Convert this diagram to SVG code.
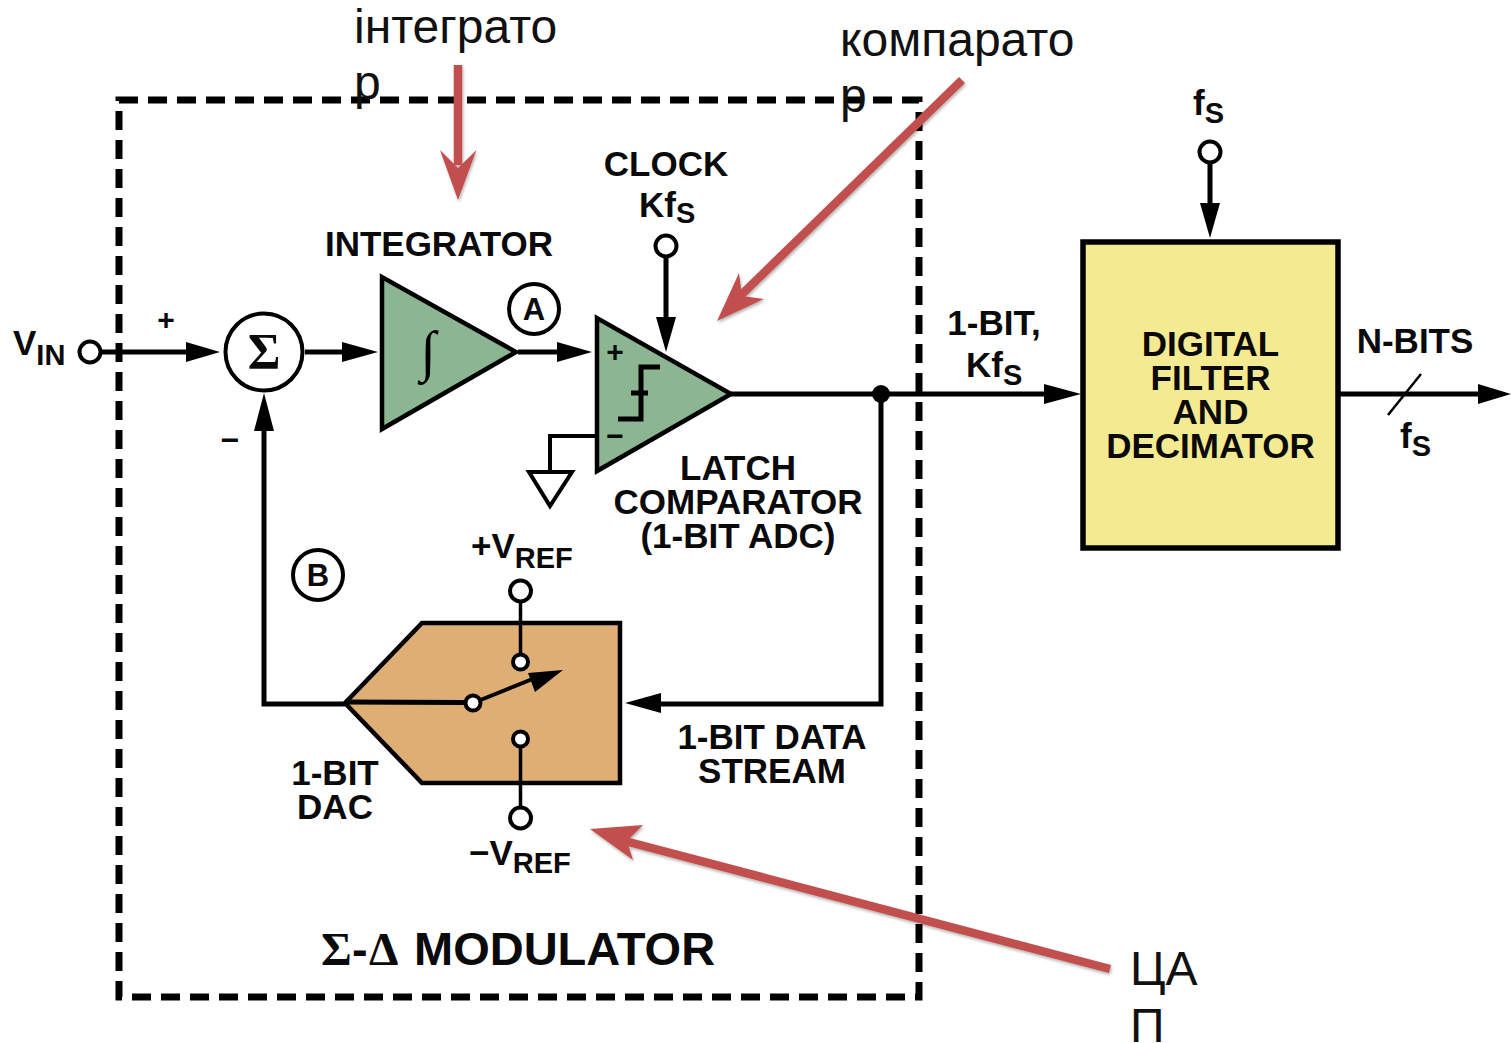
<svg xmlns="http://www.w3.org/2000/svg" width="1511" height="1043" viewBox="0 0 1511 1043">
<style>
.t{font-family:"Liberation Sans",Arial,sans-serif;font-weight:700;font-size:35px;fill:#0a0a0a;text-anchor:middle}
.l{text-anchor:start}
.sub{font-size:29px}
.w{fill:none;stroke:#000;stroke-width:5}
.c{fill:#fff;stroke:#000;stroke-width:4}
.s{fill:#fff;stroke:#000;stroke-width:4}
.n{stroke:#000;stroke-width:4.5;stroke-linejoin:miter}
.o{font-family:"Liberation Sans",Arial,sans-serif;font-size:48px;fill:#111}
.r{stroke:#c0504d;stroke-width:8.5;fill:none}
.rh{fill:#c0504d}
</style>
<defs>
<filter id="sh" x="-10%" y="-10%" width="120%" height="120%"><feDropShadow dx="1" dy="2" stdDeviation="1.5" flood-color="#000" flood-opacity=".3"/></filter>
</defs>
<rect width="1511" height="1043" fill="#fff"/>
<g id="modulator-frame"><rect x="119" y="100" width="800" height="897" fill="none" stroke="#000" stroke-width="7" stroke-dasharray="19 10"/>
<text class="t" y="965" style="font-size:47px;text-anchor:start"><tspan x="321" style="font-family:'Liberation Serif',serif">Σ</tspan><tspan x="352">-</tspan><tspan x="369" style="font-family:'Liberation Serif',serif">Δ</tspan><tspan x="414">MODULATOR</tspan></text></g>
<g id="connectors">
<path class="w" d="M101 352H190M305 352H345M518 352H560M666 257V320M731 394H1046M881 394V704H660M264 428V704H345M1210 163V205M1338 394H1480"/>
<path class="w" style="stroke-width:4" d="M597 436H550V472"/>
<path d="M220 352L186 342V362ZM378 352L342 342V362ZM592 352L557 342V362ZM666 352L656 317H676ZM1081 394L1044 384V404ZM625 703L661 693V713ZM264 393L254 431H274ZM1210 238L1200 203H1220ZM1511 394L1478 384V404Z"/>
<path d="M1388 415L1421 374" stroke="#000" stroke-width="2.5" fill="none"/>
<circle cx="881" cy="394" r="9"/>
</g>
<g id="vin"><circle class="c" cx="90" cy="352" r="10.500"/><text class="t l" x="13" y="355">V<tspan class="sub" dy="10">IN</tspan></text><text class="t" x="166" y="330" style="font-size:30px">+</text><text class="t" x="230" y="451" style="font-size:32px">−</text></g>
<g id="summer"><circle class="s" cx="264" cy="352" r="38.500"/><text class="t" x="264" y="368" style="font-family:'Liberation Serif',serif;font-size:50px">Σ</text></g>
<g id="integrator"><path class="n" fill="#8cb591" d="M382 277V429L516 352Z"/><text x="428" y="370" text-anchor="middle" font-family="Liberation Serif" font-style="italic" font-size="56">∫</text><text class="t" x="439" y="256">INTEGRATOR</text></g>
<g id="point-a"><circle class="c" cx="534" cy="309" r="25" style="fill:none"/><text class="t" x="534" y="320" style="font-size:31px">A</text></g>
<g id="comparator"><path class="n" fill="#8cb591" d="M597 318V471L731 394Z"/>
<path d="M618 419H641V367H660M631 393H648" fill="none" stroke="#000" stroke-width="5"/>
<text class="t" x="615" y="362" style="font-size:30px">+</text><text class="t" x="615" y="446" style="font-size:30px">−</text>
<path d="M529 472H572L550 506Z" fill="#fff" stroke="#000" stroke-width="4"/>
<text class="t" x="738" y="480">LATCH</text><text class="t" x="738" y="514">COMPARATOR</text><text class="t" x="738" y="548">(1-BIT ADC)</text></g>
<g id="clock"><circle class="c" cx="666" cy="246" r="10.500"/><text class="t" x="666" y="176">CLOCK</text><text class="t l" x="639" y="217">Kf<tspan class="sub" dy="6">S</tspan></text></g>
<g id="dac"><path class="n" fill="#dfae75" d="M345 703L422 623H620V783H422Z"/>
<path d="M345 702L465 702.500" stroke="#000" stroke-width="5"/>
<path d="M473 703L535 678" stroke="#000" stroke-width="4"/><path d="M563 670L528 673L535 692Z"/>
<path d="M520.500 602V654M520.500 747V807" stroke="#000" stroke-width="3.500"/>
<circle class="s" cx="473" cy="703" r="7.500"/><circle class="s" cx="520.500" cy="662" r="7.500"/><circle class="s" cx="520.500" cy="739" r="7.500"/>
<circle class="c" cx="520.500" cy="591" r="10.500"/><circle class="c" cx="520.500" cy="818" r="10.500"/>
<text class="t l" x="471" y="558">+V<tspan class="sub" dy="10">REF</tspan></text><text class="t l" x="469" y="865">−V<tspan class="sub" dy="8">REF</tspan></text>
<text class="t" x="335" y="785">1-BIT</text><text class="t" x="335" y="819">DAC</text>
<text class="t" x="772" y="749">1-BIT DATA</text><text class="t" x="772" y="783">STREAM</text></g>
<g id="point-b"><circle class="c" cx="318" cy="575" r="25" style="fill:none"/><text class="t" x="318" y="586" style="font-size:31px">B</text></g>
<g id="filter"><rect x="1083" y="242" width="255" height="306" fill="#f4ea91" stroke="#000" stroke-width="5.500"/>
<text class="t" x="1210.500" y="356">DIGITAL</text><text class="t" x="1210.500" y="390">FILTER</text><text class="t" x="1210.500" y="424">AND</text><text class="t" x="1210.500" y="458">DECIMATOR</text></g>
<g id="fs-in"><circle class="c" cx="1210" cy="152" r="10.500"/><text class="t l" x="1193" y="115">f<tspan class="sub" dy="8">S</tspan></text></g>
<g id="bit-label"><text class="t" x="994" y="335">1-BIT,</text><text class="t l" x="966" y="377">Kf<tspan class="sub" dy="8">S</tspan></text></g>
<g id="output-label"><text class="t" x="1415" y="353">N-BITS</text><text class="t l" x="1400" y="448">f<tspan class="sub" dy="8">S</tspan></text></g>
<g id="annotation-integrator"><text class="o" x="354" y="43">інтеграто</text><text class="o" x="354" y="99">р</text>
<g filter="url(#sh)"><path class="r" d="M458 65V165"/><path class="rh" d="M458 200L440 150L458 168L476.500 150Z"/></g></g>
<g id="annotation-comparator"><text class="o" x="840" y="56">компарато</text><text class="o" x="840" y="112">р</text>
<g filter="url(#sh)"><path class="r" d="M962 80L738 298"/><path class="rh" d="M717 321L739 273L742 296L764 299Z"/></g></g>
<g id="annotation-dac"><text class="o" x="1130" y="985">ЦА</text><text class="o" x="1130" y="1042">П</text>
<g filter="url(#sh)"><path class="r" d="M1110 969L625 841"/><path class="rh" d="M590 829L643 825L627 841L633 860Z"/></g></g>
</svg>
